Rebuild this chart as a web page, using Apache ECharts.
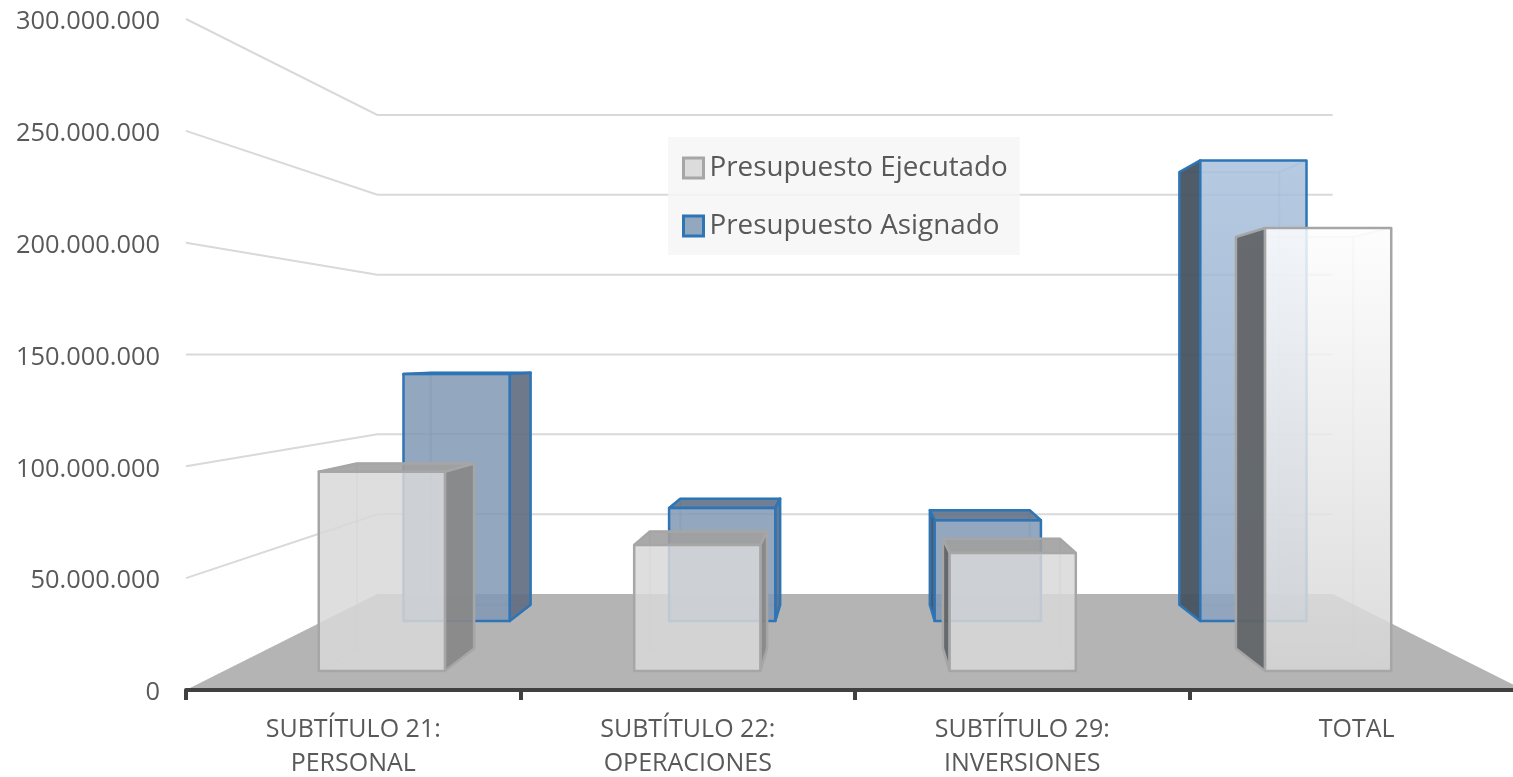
<!doctype html>
<html>
	<head>
		<meta charset="UTF-8">
		<title>Presupuesto</title>
		<script src="https://cdn.jsdelivr.net/npm/echarts@6/dist/echarts.min.js"></script>
		<style>
			html,body{margin:0;padding:0;background:#fff;}
			#main{width:1513px;height:777px;}
		</style>
	</head>
	<body>
		<div id="main"></div>
		<script type="text/javascript">
			var categories = ['SUBTÍTULO 21:\nPERSONAL','SUBTÍTULO 22:\nOPERACIONES','SUBTÍTULO 29:\nINVERSIONES','TOTAL'];
			var ejecutado = [94400000,59700000,55900000,210000000];
			var asignado = [139000000,63600000,56700000,259300000];
			var wallTicks = [50000000,100000000,150000000,200000000,250000000,300000000];

			var FONT = '"Open Sans"';
			//profundidad: 1 = plano frontal, DEPTH_BACK = pared del fondo
			var DEPTH_BACK = 0.714;
			var HORIZON = 150000000;

			var styles = {
				ejecutado: {
					near:0.943, far:0.876, stroke:'#a6a6a6', hidden:'rgba(166,166,166,0.35)',
					top:'rgba(160,160,160,0.9)', right:'rgba(136,136,136,0.92)', left:'rgba(98,101,104,0.94)',
					flat:'rgba(216,216,216,0.85)', tallTop:'rgba(253,253,253,0.85)', tallBottom:'rgba(214,214,214,0.85)'
				},
				asignado: {
					near:0.794, far:0.746, stroke:'#2e75b6', hidden:'rgba(46,117,182,0.25)',
					top:'rgba(100,116,138,0.92)', right:'rgba(98,110,130,0.92)', left:'rgba(70,82,96,0.94)',
					flat:'rgba(128,152,180,0.85)', tallTop:'rgba(169,193,221,0.85)', tallBottom:'rgba(139,162,192,0.85)'
				}
			};

			//punto de fuga tomado de las escalas del gráfico
			function getFrame(api){
				var band = api.size([1,0])[0];
				return {
					band: band,
					left: api.coord([0,0])[0]-band/2,
					right: api.coord([3,0])[0]+band/2,
					vx: (api.coord([1,0])[0]+api.coord([2,0])[0])/2,
					vy: api.coord([0,HORIZON])[1]
				};
			}
			function project(f,x,y,s){
				return [f.vx+(x-f.vx)*s, f.vy+(y-f.vy)*s];
			}

			function renderFloor(params,api){
				var f = getFrame(api);
				var y0 = api.coord([0,0])[1];
				return {
					type:'polygon',
					shape:{points:[
						project(f,f.left,y0,1),project(f,f.right,y0,1),
						project(f,f.right,y0,DEPTH_BACK),project(f,f.left,y0,DEPTH_BACK)
					]},
					style:{fill:'#b4b4b4'}
				};
			}

			function renderWall(params,api){
				var f = getFrame(api);
				var y = api.coord([0,api.value(1)])[1];
				return {
					type:'polyline',
					shape:{points:[project(f,f.left,y,1),project(f,f.left,y,DEPTH_BACK),project(f,f.right,y,DEPTH_BACK)]},
					style:{fill:null,stroke:'#d9d9d9',lineWidth:2}
				};
			}

			function makeBox(st){
				return function(params,api){
					var f = getFrame(api);
					var c = api.coord([api.value(0),0]);
					var yTop = api.coord([api.value(0),api.value(1)])[1];
					var x0 = c[0]-f.band*0.2, x1 = c[0]+f.band*0.2, y0 = c[1];
					function p(x,y,s){return project(f,x,y,s);}
					function line(a,b){
						return {type:'line',shape:{x1:a[0],y1:a[1],x2:b[0],y2:b[1]},style:{stroke:st.hidden,lineWidth:2}};
					}
					function face(points,fill){
						return {type:'polygon',shape:{points:points},style:{fill:fill,stroke:st.stroke,lineWidth:2.5,lineJoin:'round'}};
					}
					var n = st.near, b = st.far;
					var kids = [
						{type:'polygon',shape:{points:[p(x0,yTop,b),p(x1,yTop,b),p(x1,y0,b),p(x0,y0,b)]},style:{fill:null,stroke:st.hidden,lineWidth:2}},
						line(p(x0,yTop,n),p(x0,yTop,b)),line(p(x1,yTop,n),p(x1,yTop,b)),
						line(p(x0,y0,n),p(x0,y0,b)),line(p(x1,y0,n),p(x1,y0,b))
					];
					//cara superior solo si queda bajo el horizonte
					if(yTop>f.vy){
						kids.push(face([p(x0,yTop,n),p(x1,yTop,n),p(x1,yTop,b),p(x0,yTop,b)],st.top));
					}
					//cara lateral hacia el punto de fuga
					if(x1<f.vx){
						kids.push(face([p(x1,yTop,n),p(x1,yTop,b),p(x1,y0,b),p(x1,y0,n)],st.right));
					}else if(x0>f.vx){
						kids.push(face([p(x0,yTop,n),p(x0,yTop,b),p(x0,y0,b),p(x0,y0,n)],st.left));
					}
					//las barras altas llevan degradado, las otras color plano
					var front = st.flat;
					if(api.value(1)>HORIZON){
						front = new echarts.graphic.LinearGradient(0,0,0,1,[{offset:0,color:st.tallTop},{offset:1,color:st.tallBottom}]);
					}
					kids.push(face([p(x0,yTop,n),p(x1,yTop,n),p(x1,y0,n),p(x0,y0,n)],front));
					return {type:'group',children:kids};
				};
			}

			function pairs(values){
				return values.map(function(v,i){return [i,v];});
			}

			var myChart = echarts.init(document.getElementById('main'));
			var option = {
				animation:false,
				textStyle:{fontFamily:FONT},
				grid:{left:186,top:19,width:1338,height:671,containLabel:false,outerBoundsMode:'none'},
				legend:{
					left:668,top:137,orient:'vertical',
					padding:[17,12,15,14],itemGap:30,itemWidth:20,itemHeight:20,
					backgroundColor:'rgba(246,246,246,0.85)',
					textStyle:{fontFamily:FONT,fontSize:27.8,color:'#595959',padding:[0,0,0,1]},
					data:[
						{name:'Presupuesto Ejecutado',icon:'rect',itemStyle:{color:'#dcdcdc',borderColor:'#a6a6a6',borderWidth:3}},
						{name:'Presupuesto Asignado',icon:'rect',itemStyle:{color:'#93a7bf',borderColor:'#2e75b6',borderWidth:3}}
					]
				},
				xAxis:{
					type:'category',data:categories,z:5,
					axisLine:{lineStyle:{color:'#404040',width:4}},
					axisTick:{show:true,length:10,lineStyle:{color:'#404040',width:4}},
					axisLabel:{fontFamily:FONT,fontSize:25,color:'#595959',lineHeight:34,margin:23,interval:0}
				},
				yAxis:{
					type:'value',min:0,max:300000000,interval:50000000,
					axisLine:{show:false},axisTick:{show:false},splitLine:{show:false},
					axisLabel:{
						margin:26,
						formatter:function(v){return '{n|'+String(v).replace(/\B(?=(\d{3})+$)/g,'.')+'}';},
						//bajar el texto unos pixeles respecto a la marca
						rich:{n:{fontFamily:FONT,fontSize:25.4,color:'#595959',padding:[6,0,0,0]}}
					}
				},
				series:[
					{type:'custom',name:'piso',silent:true,z:1,data:[[0,0]],renderItem:renderFloor},
					{type:'custom',name:'paredes',silent:true,z:1,data:pairs(wallTicks).map(function(d){return [0,d[1]];}),renderItem:renderWall},
					{type:'custom',name:'Presupuesto Asignado',silent:true,z:2,data:pairs(asignado),renderItem:makeBox(styles.asignado)},
					{type:'custom',name:'Presupuesto Ejecutado',silent:true,z:3,data:pairs(ejecutado),renderItem:makeBox(styles.ejecutado)}
				]
			};
			myChart.setOption(option);
		</script>
	</body>
</html>
